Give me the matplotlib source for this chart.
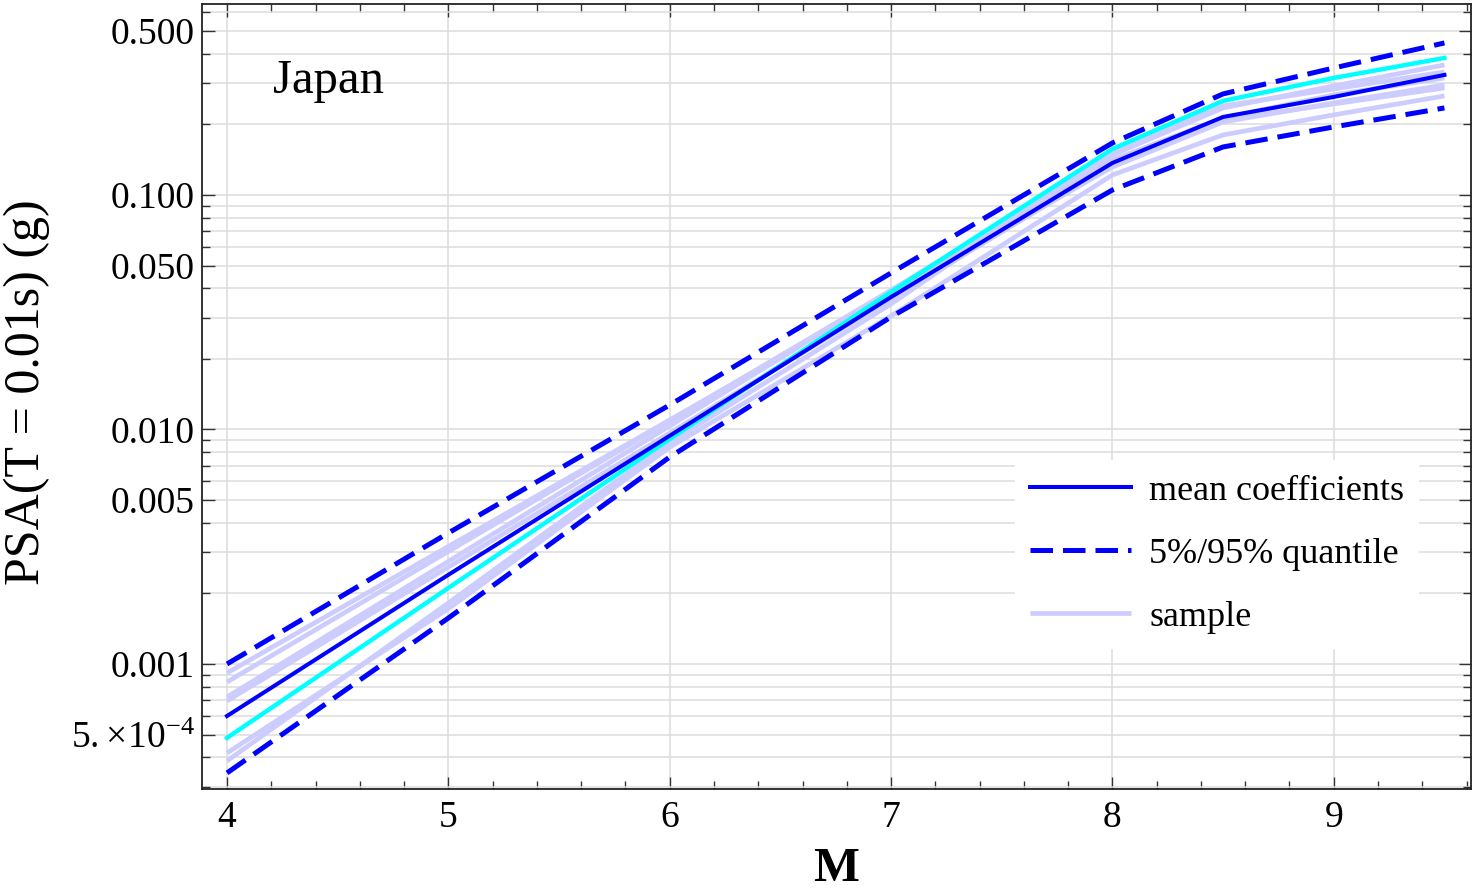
import matplotlib
matplotlib.use("Agg")
import matplotlib.pyplot as plt
from matplotlib.ticker import FixedLocator, FixedFormatter, NullFormatter, MultipleLocator

plt.rcParams['font.family'] = ['Liberation Serif', 'DejaVu Serif']
plt.rcParams['mathtext.fontset'] = 'custom'
plt.rcParams['mathtext.rm'] = 'Liberation Serif'
plt.rcParams['mathtext.it'] = 'Liberation Serif:italic'

# magnitudes at which the curves are given
mags = [4.0, 5.0, 6.0, 7.0, 8.0, 8.5, 9.0, 9.5]

# PSA (g)
psa_mean = [6.00e-4, 2.40e-3, 9.40e-3, 0.0367, 0.1369, 0.2151, 0.2618, 0.3249]
psa_q95 = [1.00e-3, 3.62e-3, 0.01272, 0.0465, 0.1666, 0.2697, 0.3479, 0.4448]
psa_q05 = [3.43e-4, 1.57e-3, 7.63e-3, 0.0302, 0.1050, 0.1602, 0.1950, 0.2350]
psa_cyan = [4.84e-4, 2.11e-3, 9.10e-3, 0.0386, 0.1571, 0.2518, 0.3154, 0.3839]

psa_samples = [
    [9.15e-4, 3.17e-3, 0.01098, 0.0380, 0.1316, 0.2048, 0.2467, 0.2944],
    [8.38e-4, 3.02e-3, 0.01087, 0.0392, 0.1410, 0.2130, 0.2670, 0.3154],
    [7.23e-4, 2.74e-3, 0.01035, 0.0392, 0.1482, 0.2350, 0.2916, 0.3584],
    [6.96e-4, 2.59e-3, 9.66e-3, 0.0360, 0.1342, 0.2088, 0.2444, 0.2860],
    [4.17e-4, 1.72e-3, 8.40e-3, 0.0305, 0.1217, 0.1803, 0.2195, 0.2644],
    [3.86e-4, 1.82e-3, 8.80e-3, 0.0343, 0.1526, 0.2396, 0.2831, 0.3345],
]

y_major = [5e-4, 1e-3, 5e-3, 1e-2, 5e-2, 0.1, 0.5]
y_major_labels = [r"$5.\!\times\!10^{-4}$", "0.001", "0.005", "0.010", "0.050", "0.100", "0.500"]
x_major = [4, 5, 6, 7, 8, 9]

fig = plt.figure(figsize=(14.74, 8.94), dpi=100)
ax = fig.add_axes([202 / 1474, 1 - 789 / 894, 1269 / 1474, 785 / 894])

lavender = (0.8, 0.8, 1.0)
for i, s in enumerate(psa_samples):
    ax.plot(mags, s, color=lavender, lw=3.4, solid_capstyle='butt',
            label='sample' if i == 0 else None, zorder=2)
ax.plot(mags, psa_cyan, color='#00ffff', lw=3.2, zorder=3)
ax.plot(mags, psa_mean, color='#0000ff', lw=2.9, label='mean coefficients', zorder=4)
ax.plot(mags, psa_q95, color='#0000ff', lw=3.6, ls=(0, (4.5, 2.0)),
        label='5%/95% quantile', zorder=5)
ax.plot(mags, psa_q05, color='#0000ff', lw=3.6, ls=(0, (4.5, 2.0)), zorder=5)

ax.set_yscale('log')
ax.set_xlim(3.887, 9.62)
ax.set_ylim(2.93e-4, 0.652)

minor_y = []
for e in [-4, -3, -2, -1]:
    for k in range(1, 10):
        v = k * 10.0 ** e
        if all(abs(v - m) / m > 1e-6 for m in y_major):
            minor_y.append(v)
ax.yaxis.set_major_locator(FixedLocator(y_major))
ax.yaxis.set_major_formatter(FixedFormatter(y_major_labels))
ax.yaxis.set_minor_locator(FixedLocator(minor_y))
ax.yaxis.set_minor_formatter(NullFormatter())
ax.xaxis.set_major_locator(FixedLocator(x_major))
ax.xaxis.set_minor_locator(MultipleLocator(0.2))

ax.grid(axis='y', which='both', color='#dddddd', lw=1.1, zorder=0)
ax.grid(axis='x', which='major', color='#dddddd', lw=1.1, zorder=0)
ax.set_axisbelow(True)

ax.tick_params(which='both', direction='in', top=True, right=True, width=1.0, color='#333333')
ax.tick_params(which='major', length=9, labelsize=27)
ax.tick_params(which='minor', length=6)
ax.tick_params(axis='x', pad=8)
ax.tick_params(axis='y', pad=5)
for sp in ax.spines.values():
    sp.set_linewidth(1.3)
    sp.set_color('#222222')

ax.text(0.056, 0.887, 'Japan', transform=ax.transAxes, fontsize=35, va='baseline')

handles, labels = ax.get_legend_handles_labels()
order = [labels.index('mean coefficients'), labels.index('5%/95% quantile'), labels.index('sample')]
leg = ax.legend([handles[i] for i in order], [labels[i] for i in order],
                loc='upper left', bbox_to_anchor=(0.641, 0.419), fontsize=26,
                frameon=True, fancybox=False, framealpha=1, edgecolor='white',
                handlelength=2.8, handletextpad=0.5, labelspacing=0.82,
                borderpad=0.4, borderaxespad=0)
leg.set_zorder(6)

fig.text(27 / 1474, 1 - 392 / 894, 'PSA(T = 0.01s) (g)', rotation=90,
         fontsize=36, ha='center', va='center')
fig.text(836 / 1474, 1 - 869 / 894, 'M', fontsize=35, fontweight='bold',
         ha='center', va='center')

fig.savefig('out.png', dpi=100)
